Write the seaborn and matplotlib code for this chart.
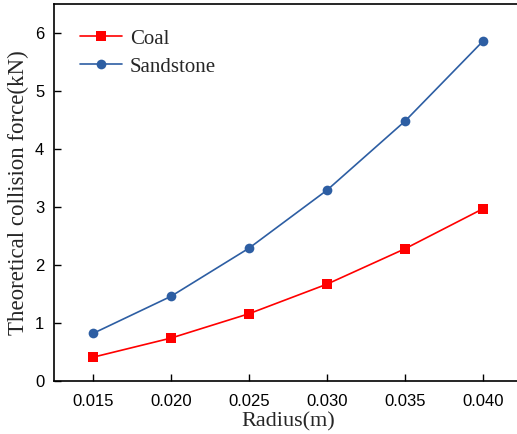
import numpy as np
import pandas as pd
import seaborn as sns
from matplotlib import pyplot as plt

radius = [0.015, 0.020, 0.025, 0.030, 0.035, 0.040]
coal = [0.41, 0.74, 1.16, 1.67, 2.28, 2.97]
sandstone = [0.82, 1.46, 2.29, 3.29, 4.48, 5.86]
xticks = [0.015, 0.020, 0.025, 0.030, 0.035, 0.040]
yticks = [0, 1, 2, 3, 4, 5, 6]

df = pd.DataFrame({
    "Radius": radius * 2,
    "Force": coal + sandstone,
    "Rock": ["Coal"] * len(coal) + ["Sandstone"] * len(sandstone),
})

sns.set_style("ticks")
plt.rcParams['font.family'] = ['Liberation Sans', 'DejaVu Sans']

fig = plt.figure(figsize=(5.17, 4.34), dpi=100)
# the original is cropped on the right, so the axes run past the edge
ax = fig.add_axes([54 / 517, 1 - 381 / 434, 468 / 517, 377 / 434])

sns.lineplot(data=df, x="Radius", y="Force", hue="Rock", style="Rock",
             palette={"Coal": "#ff0000", "Sandstone": "#2d5ea3"},
             markers={"Coal": "s", "Sandstone": "o"}, dashes=False,
             markersize=7, markeredgewidth=0, linewidth=1.2, ax=ax)

ax.set_xlim(0.0125, 0.0425)
ax.set_ylim(0, 6.5)
ax.set_xticks(xticks)
ax.set_xticklabels(["%.3f" % v for v in xticks])
ax.set_yticks(yticks)
ax.tick_params(direction="in", length=5, width=1, labelsize=12, colors="black")
ax.tick_params(axis="x", pad=9)
ax.tick_params(axis="y", pad=7)
ax.spines["right"].set_visible(False)
for s in ax.spines.values():
    s.set_linewidth(1.2)
    s.set_color("black")

ax.set_xlabel("Radius(m)", family="Liberation Serif", fontsize=16, labelpad=3)
ax.set_ylabel("Theoretical collision force(kN)", family="Liberation Serif",
              fontsize=16.5, labelpad=4)

leg = ax.legend(loc="upper left", bbox_to_anchor=(80 / 517, 1 - 29 / 434),
                bbox_transform=fig.transFigure, frameon=False,
                prop={"family": "Liberation Serif", "size": 15},
                handlelength=2.0, handletextpad=0.4, labelspacing=0.4,
                borderaxespad=0, borderpad=0)

fig.savefig("out.png", dpi=100)
